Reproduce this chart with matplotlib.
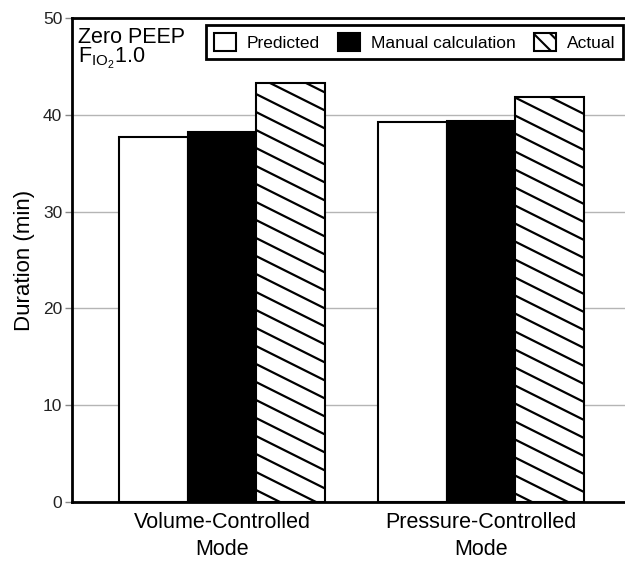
import numpy as np
import matplotlib
matplotlib.use("Agg")
import matplotlib.pyplot as plt
from matplotlib.patches import Patch
from matplotlib.collections import LineCollection

# data
modes = ["Volume-Controlled\nMode", "Pressure-Controlled\nMode"]
predicted = [37.7, 39.3]
manual = [38.2, 39.4]
actual = [43.3, 41.8]
series_names = ["Predicted", "Manual calculation", "Actual"]
yticks = [0, 10, 20, 30, 40, 50]

plt.rcParams['font.family'] = ['Liberation Sans', 'DejaVu Sans']
plt.rcParams['mathtext.fontset'] = 'custom'
plt.rcParams['mathtext.rm'] = 'Liberation Sans'
plt.rcParams['mathtext.it'] = 'Liberation Sans:italic'
plt.rcParams['hatch.linewidth'] = 1.5

W_PX, H_PX = 625, 561
fig = plt.figure(figsize=(W_PX / 100, H_PX / 100), dpi=100)
ax_l, ax_b = 72 / W_PX, 1 - 502 / H_PX
ax_w, ax_h = 1 - ax_l, (502 - 18) / H_PX
ax = fig.add_axes([ax_l, ax_b, ax_w, ax_h])

x = np.arange(len(modes))
bw = 0.266
ax.bar(x - bw, predicted, bw, color='white', edgecolor='black', lw=1.5, zorder=3)
ax.bar(x, manual, bw, color='black', edgecolor='black', lw=1.5, zorder=3)
hbars = ax.bar(x + bw, actual, bw, color='white', edgecolor='black', lw=1.5, zorder=3)

ax.set_xlim(-0.579, 1.556)
ax.set_ylim(0, 50)

# shallow diagonal hatching (lines in pixel space, clipped to each bar)
aw, ah = ax_w * W_PX, ax_h * H_PX
segs = []
for c in np.arange(-400, ah + 400, 18):
    segs.append([(0, c / ah), (1, (c - 0.5 * aw) / ah)])
for b in hbars:
    lc = LineCollection(segs, colors='black', linewidths=1.6,
                        transform=ax.transAxes, zorder=3.5)
    ax.add_collection(lc, autolim=False)
    lc.set_clip_path(b)

# axes styling
ax.set_yticks(yticks)
ax.set_xticks(x)
ax.set_xticklabels(modes, fontsize=15.5, linespacing=1.4)
ax.tick_params(axis='x', length=0, pad=7)
ax.tick_params(axis='y', length=5, width=1, color='#888888', labelsize=12.5,
               labelcolor='#222222', pad=2)
ax.yaxis.grid(True, color='#b5b5b5', lw=1, zorder=0)
ax.set_axisbelow(True)
for s in ['left', 'bottom', 'top']:
    ax.spines[s].set_linewidth(2)
ax.spines['right'].set_visible(False)
ax.set_ylabel("Duration (min)", fontsize=16, labelpad=6)

ax.text(0.011, 0.981, "Zero PEEP", transform=ax.transAxes, fontsize=15.5,
        va='top', ha='left')
ax.text(0.011, 0.907, r"$\mathregular{F_{IO_2}1.0}$", transform=ax.transAxes,
        fontsize=15.5, va='baseline', ha='left')

handles = [Patch(facecolor='white', edgecolor='black', lw=1.5),
           Patch(facecolor='black', edgecolor='black', lw=1.5),
           Patch(facecolor='white', edgecolor='black', lw=1.5, hatch='\\\\')]
leg = ax.legend(handles, series_names, loc='upper right', ncol=3,
                bbox_to_anchor=(0.996, 0.9855), borderaxespad=0, fontsize=12.5,
                handlelength=1.25, handleheight=1.25, handletextpad=0.6,
                columnspacing=1.1, borderpad=0.45, fancybox=False, framealpha=1)
leg.get_frame().set_edgecolor('black')
leg.get_frame().set_linewidth(2)

fig.savefig("out.png", dpi=100)
